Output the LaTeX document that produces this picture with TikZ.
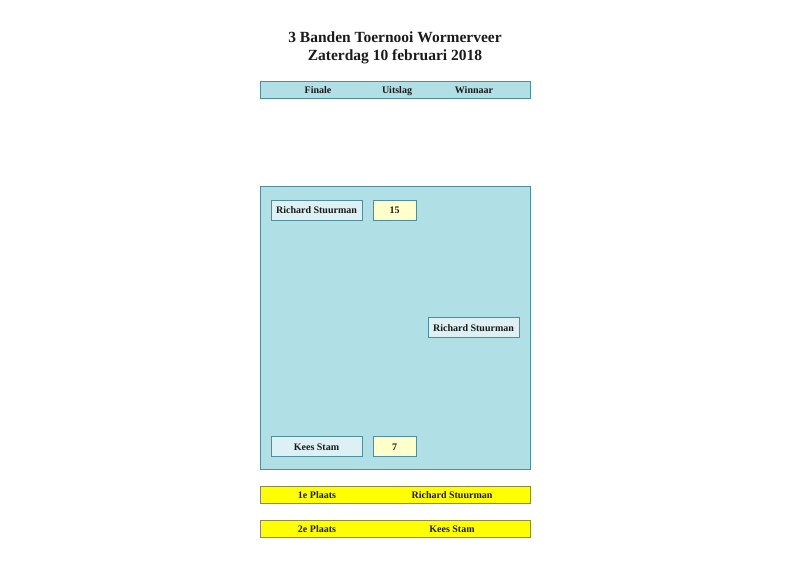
\documentclass[tikz,border=0pt]{standalone}
\usepackage{fontspec}
\setmainfont{Liberation Serif}
\definecolor{kader}{HTML}{B1DFE6}
\definecolor{rand}{HTML}{4F8E9A}
\definecolor{naam}{HTML}{DDF0F4}
\definecolor{score}{HTML}{FFFFCC}
\definecolor{plaats}{HTML}{FFFF00}
\definecolor{plaatsrand}{HTML}{8C8C3C}
\definecolor{inkt}{HTML}{1A1A1A}
\tikzset{
  balk/.style={draw=rand,fill=kader,minimum width=270pt,minimum height=17pt,inner sep=0pt},
  naambox/.style={draw=rand,fill=naam,minimum width=91pt,minimum height=20pt,inner sep=0pt,tekst},
  scorebox/.style={draw=rand,fill=score,minimum width=43pt,minimum height=20pt,inner sep=0pt,tekst},
  plaatsbalk/.style={draw=plaatsrand,fill=plaats,minimum width=270pt,minimum height=17pt,inner sep=0pt},
  tekst/.style={font=\fontsize{10}{11}\selectfont\bfseries,text=inkt,inner sep=0pt,text height=1.95ex,text depth=.25ex}
}
\begin{document}
\begin{tikzpicture}[x=1pt,y=-1pt,line width=0.9pt]
	\useasboundingbox (0,0) rectangle (799,565);
	% titel
	\node[align=center,text=inkt,font=\fontsize{15.5}{18}\selectfont\bfseries] (titel) at (395,48) {3 Banden Toernooi Wormerveer\\Zaterdag 10 februari 2018};
	% kop
	\node[balk] (kop) at (395,89.5) {};
	\node[tekst] (kfin) at (318,89.5) {Finale};
	\node[tekst] (kuit) at (397,89.5) {Uitslag};
	\node[tekst] (kwin) at (474,89.5) {Winnaar};
	% finale
	\node[draw=rand,fill=kader,minimum width=270pt,minimum height=283pt,inner sep=0pt] (finale) at (395,327.5) {};
	\node[naambox] (sp1) at (316.5,210) {Richard Stuurman};
	\node[scorebox] (sc1) at (394.5,210) {15};
	\node[naambox] (sp2) at (316.5,446.5) {Kees Stam};
	\node[scorebox] (sc2) at (394.5,446.5) {7};
	\node[naambox] (win) at (473.5,327.5) {Richard Stuurman};
	% plaatsen
	\node[plaatsbalk] (p1) at (395,494.5) {};
	\node[tekst] (p1a) at (317,494.5) {1e Plaats};
	\node[tekst] (p1b) at (452,494.5) {Richard Stuurman};
	\node[plaatsbalk] (p2) at (395,528.5) {};
	\node[tekst] (p2a) at (317,528.5) {2e Plaats};
	\node[tekst] (p2b) at (452,528.5) {Kees Stam};
\end{tikzpicture}
\end{document}
